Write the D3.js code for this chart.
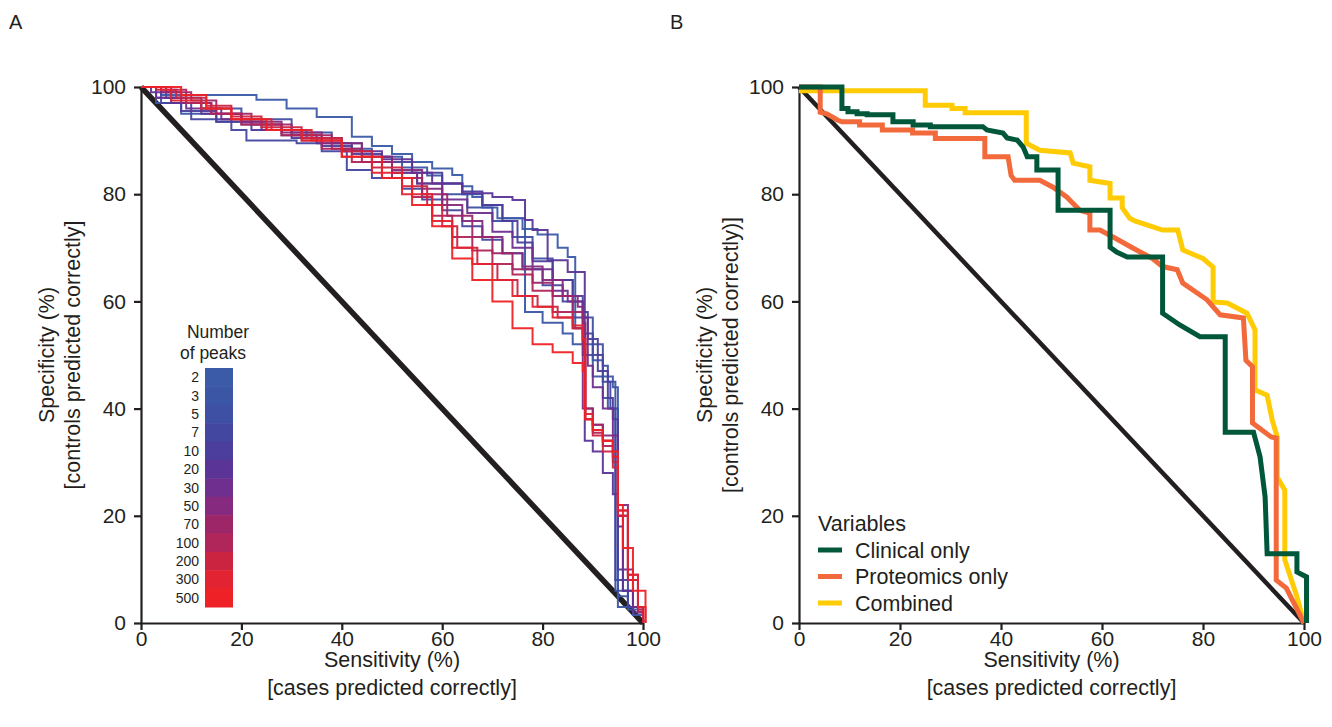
<!DOCTYPE html>
<html>
<head>
<meta charset="utf-8">
<script src="https://cdn.jsdelivr.net/npm/d3@7"></script>
<style>
  body { margin: 0; background: #fff; }
  svg { font-family: "Liberation Sans", Arial, sans-serif; }
  .axis path, .axis line { stroke: #231f20; stroke-width: 2.2; }
  .axis text { font-size: 21px; fill: #231f20; }
</style>
</head>
<body>
<div id="chart"></div>
<script>
// ---- data ----
const peaks = ["2", "3", "5", "7", "10", "20", "30", "50", "70", "100", "200", "300", "500"];
const peakColors = ["#3b5ba8", "#3c56a6", "#3e50a3", "#4447a0", "#4b3e9c", "#5a3597", "#6e2f8f",
    "#852a7e", "#9d2669", "#b0255a", "#cb2441", "#e22331", "#ee2226"];

// panel A: [sensitivity, specificity] step points, one curve per number of peaks
const roc2 = [[0,100],[4,98.5],[23,97.6],[29,96],[35,94.4],[42,90.7],[46,89],[50,87.5],[54,86],[58,84.8],[62,83.6],[64,81.5],[66,79.5],[68,77.5],[71,75.5],[76,73.5],[79,72.5],[83,70],[85,68.3],[86.5,55],[88,52],[90,49],[92,46],[94,44],[95,5],[97,2.5],[100,0]];
const roc3 = [[0,100],[3,97],[8,95],[15,93.5],[25,92],[33,90.5],[40,88.5],[46,87],[52,85],[57,83.5],[60,82],[64,80],[68,78],[72,75.5],[76.5,73.3],[76.5,58],[80,56],[84,54],[86,52],[88,50],[90,46],[92,42],[93,40],[95,3],[98,1.5],[100,0]];
const roc5 = [[0,100],[5,98],[12,96],[20,94],[30,91.5],[38,89.5],[44,87],[50,84],[55,82],[60,80],[65,77.5],[70,75],[74,72],[78,68],[82,64],[86,60],[88,57],[90,52],[92,48],[93,45],[94.5,35],[94.5,6],[97,3],[100,0]];
const roc7 = [[0,100],[4,97],[10,94],[18,92],[21,90],[31,89.5],[36,88],[41,84.5],[46,83],[52,81],[56,79],[60,77],[64,74],[68,71.5],[72,69],[76,66],[80,63],[84,60],[86,57],[88,54],[90,50],[92,45],[93.5,40],[94.5,8],[97,3],[100,0]];
const roc10 = [[0,100],[3,98],[8,95.5],[15,93.5],[22,92],[30,90.5],[36,89],[42,87.5],[48,86],[54,84],[60,82],[64,80.5],[68,78],[72,75],[75,71],[78,67.5],[82,64],[86,61],[88,58],[89,53],[91,47],[93,42],[94,38],[95,10],[96,6],[98,3],[100,0]];
const roc20 = [[0,100],[2,99],[6,97],[12,95],[20,93],[28,91],[35,89.5],[42,88],[48,86.5],[54,84],[58,82],[64,80.2],[70,79.5],[74,78.9],[76.5,75.2],[78,73.3],[81,67.7],[85,65.5],[88.4,63.6],[88.4,34],[90,32],[92,28],[94,24],[95,18],[96,6],[98,2],[100,0]];
const roc30 = [[0,100],[3,98],[9,96],[16,94],[24,92],[32,90],[40,88],[46,86],[50,84],[55,82],[60,79],[65,76.5],[70,73],[74,70],[78,66],[82,62],[85,60],[88,57],[89,48],[90,44],[92,40],[94,35],[95,20],[96,10],[98,3],[100,0]];
const roc50 = [[0,100],[4,99],[8,97],[14,95],[20,93.5],[28,91.5],[36,89.5],[44,87],[50,84.5],[56,81],[60,78],[64,75],[68,72],[72,69],[76,66.5],[80,64],[84,61],[87,59],[88,40],[90,37],[92,35],[94,32],[95,22],[97,8],[99,2],[100,0]];
const roc70 = [[0,100],[5,99],[10,97.5],[15,95],[22,93],[30,91],[38,88.5],[44,86],[50,83],[56,80],[61,76],[66,72],[70,69],[74,66],[78,63.5],[82,61],[86,58],[88,56],[88.5,40],[90,37],[92,34],[94,31],[95,20],[97,9],[99,3],[100,0]];
const roc100 = [[0,100],[6,99.5],[9,97],[14,95],[20,93],[28,91],[36,88.5],[42,86],[48,83],[54,79.5],[58,76],[62,72],[66,69.5],[70,67],[74,65],[78,62],[82,58],[86,55],[88,52],[88.5,38],[90,35.5],[92,33],[94,30],[95,21],[97,8],[99,2],[100,0]];
const roc200 = [[0,100],[3,99.5],[7,98],[13,96.5],[18,94.5],[24,92.5],[32,90.5],[40,88],[46,85],[52,81.5],[57,78],[60,74],[63,70],[67,67],[71,64],[75,61],[79,59],[83,57],[86,55],[88,53],[88.5,38],[90,35],[92,32],[94,29],[95,20],[97,8],[99,2.5],[100,0]];
const roc300 = [[0,100],[4,99.5],[6,97.5],[12,96],[18,94],[26,92],[34,90],[40,87],[46,84],[52,80],[58,75],[62,70],[66,67],[70,64],[74,61],[78,59],[82,57],[86,55.5],[88,53],[88.5,39],[90,36],[92,34],[94,31],[95,21],[97,9],[99,3],[100.5,0]];
const roc500 = [[0,100],[8,98.5],[13,96],[18,94],[25,92],[32,90],[40,87],[48,83],[54,78],[58,74],[62,68],[66,64],[70,60],[74,55],[78,52],[82,50.5],[86,48.5],[88,47],[88.5,38],[90,36],[92,34],[94,32],[95,22],[96,14],[98,6],[100.5,0]];
const peakCurves = [roc2, roc3, roc5, roc7, roc10, roc20, roc30, roc50, roc70, roc100, roc200, roc300, roc500];

// panel B: vertices of the three curves
const variables = ["Clinical only", "Proteomics only", "Combined"];
const variableColors = ["#00573a", "#f26a3b", "#ffcb05"];
const clinical = [[0,100],[8.5,100],[8.5,96],[9.7,96],[9.7,95.4],[11.5,95.4],[11.5,95],[13.5,95],[13.5,94.8],[18.6,94.8],[18.6,93.5],[22.6,93.5],[22.6,92.9],[26,92.9],[26,92.6],[36.4,92.6],[37.2,92],[40.4,91.4],[41.2,90.5],[43.2,90.1],[44.4,88.8],[45.2,87],[47.1,87],[47.1,84.5],[51.3,84.5],[51.3,77],[61.6,77],[61.6,70.1],[62.9,69.2],[65,68.3],[72,68.3],[72,57.8],[75.4,55.6],[79.4,53.4],[84.4,53.4],[84.4,35.6],[90,35.6],[91.3,31],[92.3,23.5],[92.7,12.9],[98.6,12.9],[98.6,9.5],[100.5,8.6],[100.5,0]];
const proteomics = [[0,100],[4.2,100],[4.2,95.3],[5.5,95],[7.7,93.8],[8.5,93.5],[12,93.5],[12,92.9],[16.5,92.9],[16.5,92],[22.5,92],[22.5,91.4],[27,91.4],[27,90.4],[36.8,90.4],[36.8,87],[41.4,87],[42,83.5],[42.7,82.6],[47.7,82.6],[50.3,81.3],[53,79.5],[55.6,77],[57.6,76.5],[57.6,73.3],[59.6,73.3],[62.2,72],[66,70],[70,68],[72,66.5],[74.9,65.9],[76,63.4],[80.8,60.3],[83.4,57.5],[88,56.9],[88.5,49],[89.8,47.8],[89.8,37.3],[93.5,34.7],[94.5,34.5],[94.5,8],[96.5,6.5],[100,0]];
const combined = [[0,99.3],[25,99.3],[25,96.6],[30.3,96.6],[30.3,96],[32.9,96],[32.9,95.2],[45,95.2],[45,89.5],[47.7,88.2],[53.7,87.7],[54.3,85.8],[57.6,85.1],[57.6,82.6],[61.6,82],[61.6,79.3],[64,79.3],[64,77.5],[65.5,75.5],[66.5,75],[72,73.3],[75,73.3],[76,69.6],[80,68],[82,66.4],[82,59.9],[84.8,59.7],[88.7,57.8],[90.3,54.7],[90.3,43.5],[92.7,42.5],[93.7,37.9],[94.7,34.7],[94.7,27.2],[96.2,24.8],[96.2,11.8],[98.6,4.9],[100,0]];
const variableCurves = [clinical, proteomics, combined];

const axisTicks = [0, 20, 40, 60, 80, 100];

// ---- layout ----
const W = 1332, H = 727;
const plotTop = 87, plotBottom = 623;
const titleSize = "21.5px";

const svg = d3.select("#chart").append("svg")
    .attr("width", W)
    .attr("height", H);

function panel(x0, x1, letter, letterX) {
    const g = svg.append("g");
    const x = d3.scaleLinear().domain([0, 100]).range([x0, x1]);
    const y = d3.scaleLinear().domain([0, 100]).range([plotBottom, plotTop]);

    g.append("g")
        .attr("class", "axis")
        .attr("transform", "translate(0," + plotBottom + ")")
        .call(d3.axisBottom(x).tickValues(axisTicks).tickSize(7).tickSizeOuter(0).tickPadding(1));

    g.append("g")
        .attr("class", "axis")
        .attr("transform", "translate(" + x0 + ",0)")
        .call(d3.axisLeft(y).tickValues(axisTicks).tickSize(7).tickSizeOuter(0).tickPadding(8));

    const cx = (x0 + x1) / 2;
    g.append("text").attr("x", cx).attr("y", 667).attr("text-anchor", "middle")
        .style("font-size", titleSize).attr("fill", "#231f20").text("Sensitivity (%)");
    g.append("text").attr("x", cx).attr("y", 695).attr("text-anchor", "middle")
        .style("font-size", titleSize).attr("fill", "#231f20").text("[cases predicted correctly]");

    const cy = (plotTop + plotBottom) / 2;
    g.append("text").attr("transform", "translate(" + (x0 - 87) + "," + cy + ") rotate(-90)")
        .attr("text-anchor", "middle").style("font-size", titleSize).attr("fill", "#231f20")
        .text("Specificity (%)");
    g.append("text").attr("transform", "translate(" + (x0 - 61) + "," + cy + ") rotate(-90)")
        .attr("text-anchor", "middle").style("font-size", titleSize).attr("fill", "#231f20")
        .text(letter === "A" ? "[controls predicted correctly]" : "[controls predicted correctly)]");

    svg.append("text").attr("x", letterX).attr("y", 29)
        .style("font-size", "20px").attr("fill", "#231f20").text(letter);

    return { g, x, y };
}

// ---- panel A ----
const A = panel(141, 643, "A", 9);
const lineA = d3.line()
    .x(d => A.x(d[0]))
    .y(d => A.y(d[1]))
    .curve(d3.curveStepAfter);

A.g.append("line")
    .attr("x1", A.x(0)).attr("y1", A.y(100))
    .attr("x2", A.x(100)).attr("y2", A.y(0))
    .attr("stroke", "#231f20").attr("stroke-width", 5.5);

A.g.selectAll(".peak")
    .data(peakCurves)
    .join("path")
    .attr("class", "peak")
    .attr("d", d => lineA(d))
    .attr("fill", "none")
    .attr("stroke", (d, i) => peakColors[i])
    .attr("stroke-width", 2)
    .attr("stroke-opacity", 0.95);

// colour bar
const band = d3.scaleBand().domain(peaks).range([368, 607]);
const bar = A.g.append("g");
bar.selectAll("rect")
    .data(peaks)
    .join("rect")
    .attr("x", 205).attr("width", 28)
    .attr("y", d => band(d)).attr("height", band.bandwidth() + 0.5)
    .attr("fill", (d, i) => peakColors[i]);
bar.selectAll("text.lab")
    .data(peaks)
    .join("text")
    .attr("class", "lab")
    .attr("x", 199)
    .attr("y", d => band(d) + band.bandwidth() / 2 + 5)
    .attr("text-anchor", "end")
    .style("font-size", "14px").attr("fill", "#231f20")
    .text(d => d);
bar.append("text").attr("x", 218).attr("y", 338).attr("text-anchor", "middle")
    .style("font-size", "17.5px").attr("fill", "#231f20").text("Number");
bar.append("text").attr("x", 213).attr("y", 359).attr("text-anchor", "middle")
    .style("font-size", "17.5px").attr("fill", "#231f20").text("of peaks");

// ---- panel B ----
const B = panel(799, 1304, "B", 670);
const lineB = d3.line()
    .x(d => B.x(d[0]))
    .y(d => B.y(d[1]));

B.g.append("line")
    .attr("x1", B.x(0)).attr("y1", B.y(100))
    .attr("x2", B.x(100)).attr("y2", B.y(0))
    .attr("stroke", "#231f20").attr("stroke-width", 4.5);

// draw combined first, clinical last (on top)
const order = [2, 1, 0];
B.g.selectAll(".var")
    .data(order)
    .join("path")
    .attr("class", "var")
    .attr("d", i => lineB(variableCurves[i]))
    .attr("fill", "none")
    .attr("stroke", i => variableColors[i])
    .attr("stroke-width", 5)
    .attr("stroke-linejoin", "miter");

// legend
const leg = B.g.append("g");
leg.append("text").attr("x", 818).attr("y", 531)
    .style("font-size", "21.5px").attr("fill", "#231f20").text("Variables");
variables.forEach((v, i) => {
    const yy = 550 + i * 26.5;
    leg.append("line").attr("x1", 818).attr("x2", 842).attr("y1", yy).attr("y2", yy)
        .attr("stroke", variableColors[i]).attr("stroke-width", 5);
    leg.append("text").attr("x", 855).attr("y", yy + 7.5)
        .style("font-size", "21.5px").attr("fill", "#231f20").text(v);
});
</script>
</body>
</html>
